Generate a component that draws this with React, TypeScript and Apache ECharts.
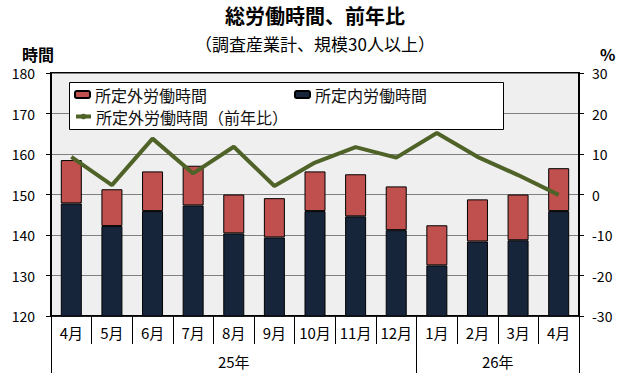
import React, { useEffect, useRef } from "react";
import * as echarts from "echarts";

const months = ["4月", "5月", "6月", "7月", "8月", "9月", "10月", "11月", "12月", "1月", "2月", "3月", "4月"];
const scheduledHours = [147.8, 142.2, 145.9, 147.3, 140.4, 139.4, 145.9, 144.6, 141.2, 132.5, 138.4, 138.7, 145.9];
const overtimeHours = [10.7, 9.1, 9.8, 9.8, 9.6, 9.7, 9.8, 10.4, 10.8, 9.9, 10.4, 11.3, 10.6];
const overtimeYoY = [9.3, 2.3, 13.8, 5.2, 11.8, 2.1, 7.9, 11.7, 9.1, 15.2, 9.3, 4.8, -0.1];
const yearLabels = ["25年", "26年"];
const yearSpans = [9, 4];

const NAME_OVER = "所定外労働時間";
const NAME_SCHED = "所定内労働時間";
const NAME_YOY = "所定外労働時間（前年比）";
const FONT = "'Noto Sans CJK JP', 'Noto Sans', sans-serif";

export default function App() {
  const ref = useRef<HTMLDivElement>(null);
  useEffect(() => {
    document.body.style.margin = "0";
    if (!ref.current) return;
    const chart = echarts.init(ref.current, null, { renderer: "svg" });

    const boundaries: number[] = [0];
    yearSpans.forEach((s) => boundaries.push(boundaries[boundaries.length - 1] + s));
    const centers = yearSpans.map((s, i) => boundaries[i] + s / 2);

    chart.setOption({
      animation: false,
      textStyle: { fontFamily: FONT },
      title: [
        {
          text: "総労働時間、前年比",
          left: "center",
          top: 5,
          padding: 0,
          textStyle: { fontSize: 20, fontWeight: "bold", color: "#000", lineHeight: 20, fontFamily: FONT },
        },
        {
          text: "（調査産業計、規模30人以上）",
          left: "center",
          top: 35,
          padding: 0,
          textStyle: { fontSize: 17, fontWeight: "normal", color: "#000", lineHeight: 17, fontFamily: FONT },
        },
        {
          text: "時間",
          left: 22,
          top: 46,
          padding: 0,
          textStyle: { fontSize: 16, fontWeight: "bold", color: "#000", lineHeight: 16, fontFamily: FONT },
        },
        {
          text: "%",
          left: 600,
          top: 46,
          padding: 0,
          textStyle: { fontSize: 16, fontWeight: "bold", color: "#000", lineHeight: 16, fontFamily: FONT },
        },
      ],
      graphic: [
        {
          type: "rect",
          z: 3,
          shape: { x: 69.5, y: 82.5, width: 434, height: 47 },
          style: { fill: "#fff", stroke: "#000", lineWidth: 1 },
        },
      ],
      legend: [
        {
          data: [NAME_OVER, NAME_SCHED],
          left: 74,
          top: 86,
          padding: 0,
          itemGap: 87,
          itemWidth: 15,
          itemHeight: 7,
          z: 5,
          textStyle: { fontSize: 16, color: "#111", lineHeight: 17, fontFamily: FONT },
        },
        {
          data: [NAME_YOY],
          left: 74,
          top: 108,
          padding: 0,
          itemWidth: 15,
          itemHeight: 7,
          z: 5,
          lineStyle: { width: 4 },
          textStyle: { fontSize: 16, color: "#111", lineHeight: 17, fontFamily: FONT },
        },
      ],
      grid: {
        left: 51,
        right: 51,
        top: 73,
        bottom: 64,
        show: true,
        backgroundColor: "#efefef",
        borderColor: "#000",
        borderWidth: 2,
        containLabel: false,
      },
      xAxis: [
        {
          type: "category",
          data: months,
          position: "bottom",
          axisLine: { show: true, onZero: false, lineStyle: { color: "#000", width: 1.5 } },
          axisTick: { show: true, interval: 0, length: 28, lineStyle: { color: "#000", width: 1 } },
          axisLabel: { interval: 0, fontSize: 15, color: "#000", margin: 9, fontFamily: FONT },
          splitLine: { show: false },
        },
        {
          type: "value",
          min: 0,
          max: boundaries[boundaries.length - 1],
          position: "bottom",
          axisLine: { show: false, onZero: false },
          splitLine: { show: false },
          axisTick: {
            show: true,
            customValues: boundaries,
            length: 57,
            lineStyle: { color: "#000", width: 1 },
          },
          axisLabel: {
            show: true,
            customValues: centers,
            margin: 38,
            fontSize: 15,
            color: "#000",
            fontFamily: FONT,
            formatter: (v: number) => {
              const i = centers.findIndex((c) => Math.abs(c - v) < 1e-6);
              return i >= 0 ? yearLabels[i] : "";
            },
          },
        },
      ],
      yAxis: [
        {
          type: "value",
          min: 120,
          max: 180,
          interval: 10,
          position: "left",
          axisLine: { show: true, lineStyle: { color: "#000", width: 2 } },
          axisTick: { show: true, length: 5, lineStyle: { color: "#000" } },
          axisLabel: { fontSize: 14, color: "#000", margin: 16, fontFamily: FONT },
          splitLine: { show: true, lineStyle: { color: "#808080", width: 1 } },
        },
        {
          type: "value",
          min: -30,
          max: 30,
          interval: 10,
          position: "right",
          axisLine: { show: true, lineStyle: { color: "#000", width: 2 } },
          axisTick: { show: true, length: 5, lineStyle: { color: "#000" } },
          axisLabel: { fontSize: 14, color: "#000", margin: 13, fontFamily: FONT },
          splitLine: { show: false },
        },
      ],
      series: [
        {
          name: NAME_SCHED,
          type: "bar",
          stack: "hours",
          data: scheduledHours,
          barWidth: 21,
          itemStyle: { color: "#17253b", borderColor: "#000", borderWidth: 1 },
        },
        {
          name: NAME_OVER,
          type: "bar",
          stack: "hours",
          data: overtimeHours,
          barWidth: 21,
          itemStyle: { color: "#c0504d", borderColor: "#000", borderWidth: 1 },
        },
        {
          name: NAME_YOY,
          type: "line",
          yAxisIndex: 1,
          data: overtimeYoY,
          symbol: "none",
          z: 4,
          lineStyle: { color: "#4f6228", width: 4 },
          itemStyle: { color: "#4f6228" },
        },
      ],
    });
    return () => chart.dispose();
  }, []);
  return <div ref={ref} style={{ width: 630, height: 380 }} />;
}
